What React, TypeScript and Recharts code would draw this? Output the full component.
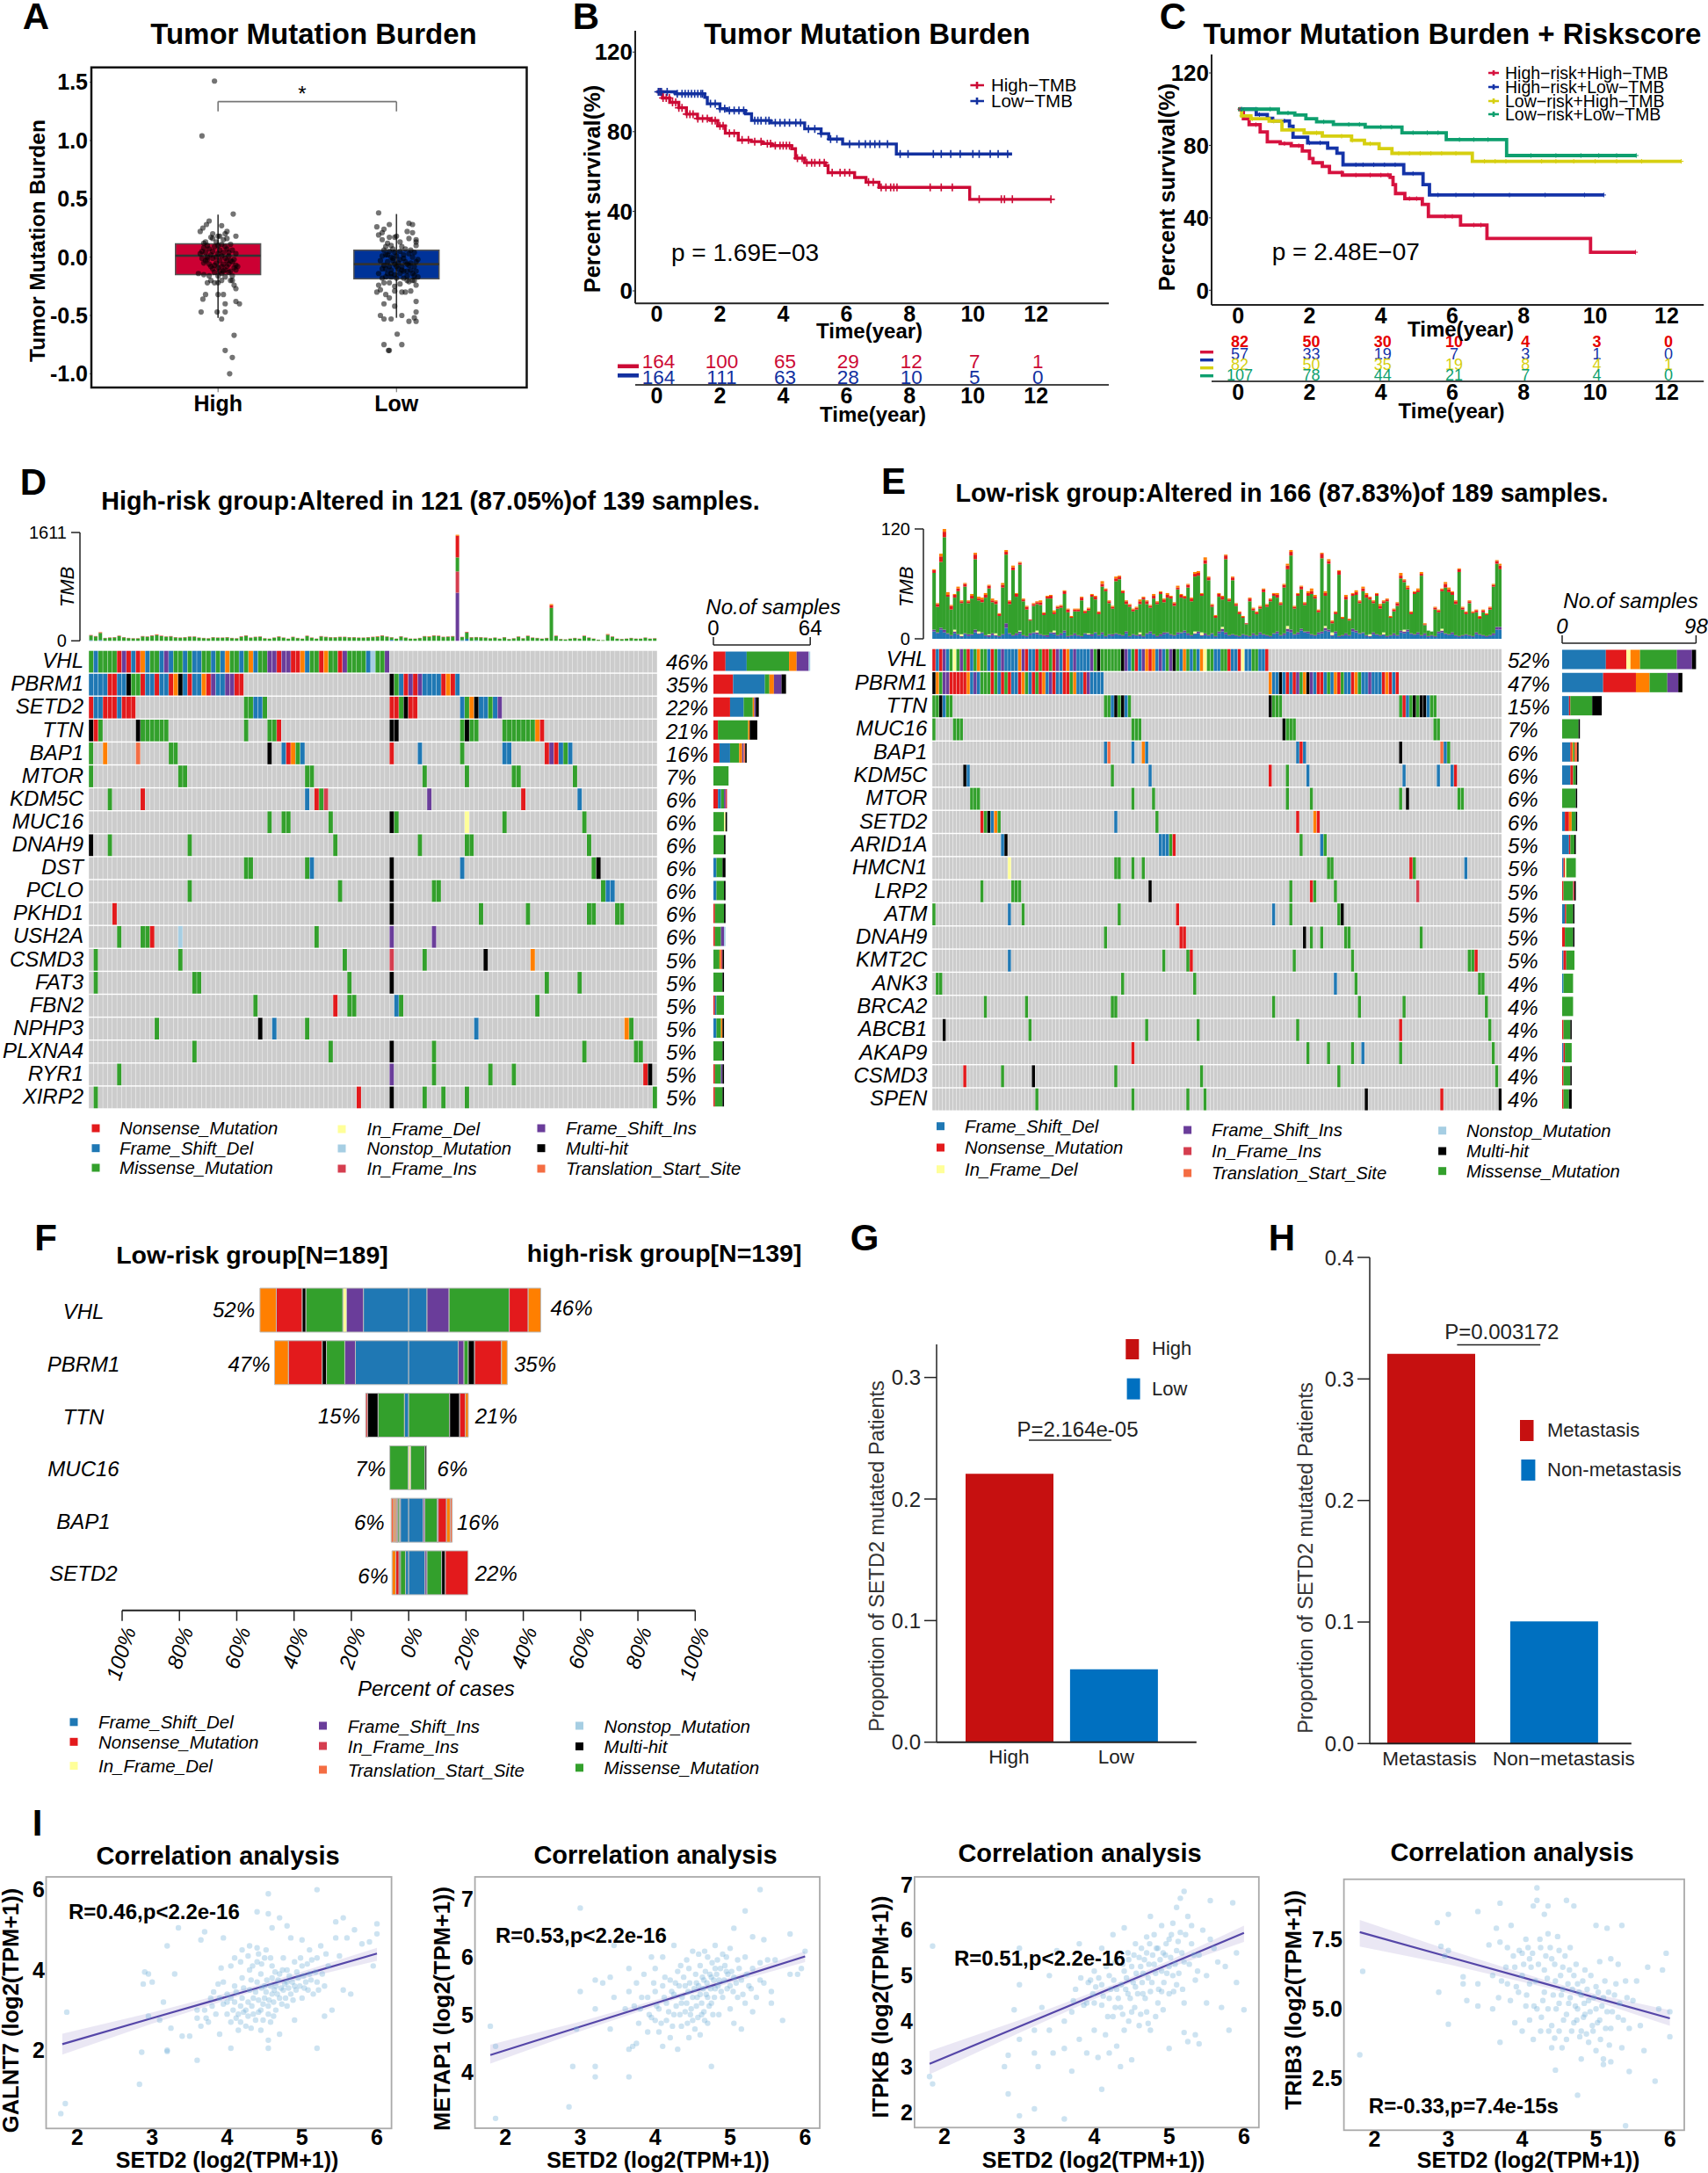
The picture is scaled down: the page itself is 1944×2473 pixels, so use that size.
import React from 'react';
import { Area, Bar, BarChart, Cell, ComposedChart, Line, ReferenceArea, ReferenceLine, Scatter, ScatterChart, XAxis, YAxis } from 'recharts';

const FONT = '"Liberation Sans", Arial, sans-serif';

const MUT: Record<string, string> = {
  G: '#cccccc', F: '#1f78b4', N: '#e31a1c', M: '#33a02c', I: '#6a3d9a', H: '#000000',
  S: '#ff7f00', Y: '#ffff99', L: '#a6cee3', R: '#d53e4f', T: '#f46d43',
};

// ---- panel A
const highBox = { q1: -0.15, med: 0.012, q3: 0.115, lo: -0.52, hi: 0.365 };
const lowBox = { q1: -0.185, med: -0.06, q3: 0.06, lo: -0.52, hi: 0.37 };
const highDots = [[0.98,1.51],[0.91,1.04],[1.085,0.37],[0.95,0.31],[0.935,0.28],[1.02,0.27],[0.915,0.25],[0.9,0.22],[1.05,0.22],[1.04,0.2],[0.97,0.2],[1.0,0.18],[1.1,0.18],[0.96,0.17],[1.03,0.15],[0.92,0.12],[0.93,0.13],[0.99,0.13],[1.02,0.11],[1.07,0.11],[0.92,0.08],[0.95,0.07],[0.98,0.09],[1.01,0.06],[1.05,0.07],[1.08,0.06],[0.9,0.03],[0.93,0.04],[0.96,0.02],[1.0,0.03],[1.03,0.04],[1.06,0.01],[1.1,0.03],[0.91,-0.01],[0.94,-0.02],[0.97,-0.01],[1.01,-0.03],[1.04,-0.01],[1.07,-0.03],[1.09,-0.02],[0.92,-0.05],[0.95,-0.06],[0.99,-0.05],[1.03,-0.06],[1.06,-0.06],[1.1,-0.07],[0.96,-0.08],[1.0,-0.09],[1.05,-0.08],[1.09,-0.09],[1.11,-0.08],[0.97,-0.1],[1.01,-0.12],[1.04,-0.11],[1.07,-0.12],[1.1,-0.11],[0.98,-0.13],[1.02,-0.14],[1.06,-0.13],[0.89,-0.14],[0.92,-0.15],[0.95,-0.16],[1.0,-0.16],[1.04,-0.17],[1.08,-0.16],[0.96,-0.2],[0.98,-0.22],[1.0,-0.22],[1.02,-0.2],[1.07,-0.2],[1.09,-0.24],[0.94,-0.22],[1.1,-0.27],[1.08,-0.2],[0.915,-0.36],[0.93,-0.32],[1.0,-0.32],[1.03,-0.32],[1.04,-0.4],[1.1,-0.38],[1.12,-0.4],[0.905,-0.47],[0.995,-0.47],[1.04,-0.47],[1.02,-0.53],[1.09,-0.67],[1.04,-0.8],[1.08,-0.86],[1.065,-1.0],[0.94,0.1],[0.97,0.05],[1.0,0.1],[1.04,0.09],[0.91,0.05],[0.99,0.0],[1.02,0.01],[1.08,-0.04],[0.93,-0.03],[1.05,-0.03],[1.06,0.04],[0.98,-0.07],[1.02,-0.08],[0.94,0.0],[1.03,-0.12],[0.97,0.16],[1.01,0.18],[1.05,0.16]];
const lowDots = [[1.9,0.38],[1.96,0.28],[2.07,0.29],[2.09,0.28],[1.89,0.26],[1.93,0.24],[1.92,0.21],[2.06,0.22],[2.09,0.21],[2.11,0.15],[2.11,0.13],[2.11,0.1],[2.0,0.18],[1.99,0.17],[1.9,0.19],[1.92,0.15],[1.95,0.12],[1.97,0.1],[2.03,0.09],[2.05,0.07],[2.08,0.06],[1.93,0.06],[1.96,0.05],[1.99,0.04],[2.02,0.05],[2.07,0.03],[2.1,0.04],[1.92,0.01],[1.94,0.02],[1.97,0.0],[2.0,0.01],[2.04,-0.01],[2.09,0.0],[2.12,-0.02],[1.91,-0.03],[1.95,-0.04],[1.98,-0.03],[2.01,-0.05],[2.05,-0.04],[2.08,-0.05],[2.11,-0.04],[1.93,-0.07],[1.96,-0.08],[1.99,-0.06],[2.03,-0.08],[2.07,-0.07],[2.1,-0.08],[1.94,-0.1],[1.97,-0.11],[2.01,-0.1],[2.04,-0.12],[2.08,-0.11],[2.11,-0.12],[1.9,-0.14],[1.95,-0.14],[1.99,-0.15],[2.02,-0.14],[2.06,-0.16],[2.1,-0.16],[2.12,-0.17],[1.92,-0.18],[1.97,-0.17],[2.04,-0.18],[1.9,-0.24],[1.93,-0.22],[1.96,-0.22],[1.99,-0.25],[2.02,-0.23],[2.07,-0.21],[2.09,-0.2],[2.11,-0.24],[1.89,-0.3],[1.91,-0.28],[1.94,-0.32],[1.96,-0.35],[2.03,-0.3],[2.05,-0.3],[2.08,-0.29],[1.99,-0.29],[2.11,-0.38],[1.93,-0.4],[1.99,-0.42],[1.91,-0.5],[1.93,-0.53],[1.97,-0.53],[2.03,-0.5],[2.07,-0.55],[2.1,-0.52],[2.11,-0.55],[2.11,-0.47],[2.004,-0.66],[1.93,-0.75],[2.03,-0.75],[1.955,-0.8],[1.96,-0.8],[1.95,0.02],[1.98,-0.01],[2.02,-0.02],[2.06,-0.06],[1.92,-0.1],[2.0,-0.08],[2.03,-0.11],[1.97,-0.14],[2.09,-0.14],[1.94,-0.17],[2.0,-0.18],[2.06,-0.12],[1.98,0.07],[2.04,0.02],[1.94,0.09],[2.02,0.13],[2.07,0.16],[1.96,0.17],[2.1,-0.2],[2.06,-0.2]];

// ---- panel B
const bHigh = [[0,100],[0.18,96.9],[0.41,94.7],[0.7,92],[0.94,88.8],[1.29,86.6],[1.7,85.6],[1.93,82.9],[2.17,79.2],[2.58,75.8],[2.99,75],[3.34,74],[3.63,73],[4.27,71.4],[4.39,66.7],[4.68,64.4],[5.33,63],[5.42,59.4],[6.26,57],[6.62,54.6],[7.03,52],[9.9,46],[12.47,46]];
const bLow = [[0,100],[0.59,99],[1.52,97.2],[1.6,94],[2,91.5],[2.22,90.6],[2.81,89],[3,85.6],[3.6,84.4],[4.68,81.4],[5.2,79],[5.44,76.3],[5.88,73.8],[7.58,68.8],[11.24,68.8]];
const bHighCens = [0.1,0.2,0.3,0.4,0.5,0.6,0.7,0.8,0.95,1.05,1.15,1.3,1.45,1.6,1.75,1.85,2,2.1,2.3,2.45,2.7,2.9,3.1,3.3,3.5,3.6,3.75,3.9,4,4.1,4.2,4.45,4.6,4.75,4.9,5,5.15,5.3,5.55,5.8,5.95,6.1,6.7,6.85,7.1,7.25,7.4,7.5,7.6,8.65,9,9.35,10.2,10.9,11,11.25,12.47];
const bLowCens = [0.05,0.1,0.15,0.33,0.65,0.8,0.9,1,1.1,1.2,1.3,1.4,1.45,1.7,1.85,2,2.15,2.3,2.45,2.6,2.75,3.1,3.2,3.3,3.45,3.55,3.75,3.9,4.05,4.2,4.4,4.55,4.8,5,5.2,5.5,5.7,6.1,6.4,6.6,6.75,6.9,7.05,7.3,7.7,7.95,8.75,9,9.3,9.6,10,10.2,10.55,10.8,11.1];
const bRiskHigh = [164,100,65,29,12,7,1];
const bRiskLow = [164,111,63,28,10,5,0];
const yearTicks = [0,2,4,6,8,10,12];

// ---- panel C
const cHH = [[0,100],[0.15,94.7],[0.31,91.4],[0.62,87.4],[0.82,82],[1.18,81],[1.49,79.8],[1.8,76.9],[2,72.8],[2.1,70.4],[2.36,68.4],[2.56,65],[2.92,63.6],[4.26,62.3],[4.34,58.3],[4.41,53.4],[4.67,50.6],[5.16,47.4],[5.33,40.8],[6.23,36],[6.97,28.6],[9.87,21],[11.13,21]];
const cHL = [[0,100],[0.51,97],[0.82,95],[0.97,93.5],[1.44,90.6],[1.54,84.5],[1.95,81.4],[2.51,78.5],[2.77,75.7],[2.94,69.3],[4.64,64.4],[5.18,58.3],[5.36,52.6],[10.24,52.6]];
const cLH = [[0,100],[0.1,96.3],[0.36,94.7],[0.87,93.4],[1.23,88.5],[1.85,86.9],[2.36,85.1],[3.18,82.8],[3.54,80.9],[3.95,78.2],[4.31,75.6],[6.56,71.2],[12.41,71.2]];
const cLL = [[0,100],[1.13,97.9],[1.59,96.8],[1.9,94.7],[2.2,93],[2.67,91.6],[3.56,90.1],[4.59,87],[5.83,83.2],[7.52,74.4],[11.15,74.4]];
const cHHCens = [0.05,0.5,1.3,1.7,2.9,3.3,3.7,4,4.2,4.8,5,5.8,6,6.6,6.8,11.13];
const cHLCens = [0.1,0.6,1.3,2,2.3,3.3,3.5,3.8,4.1,4.4,4.9,5.6,6.1,6.6,7.6,8.6,9.7,10.24];
const cLHCens = [0.1,0.4,1,1.5,2.2,2.9,3.2,3.7,4.5,4.8,5.1,5.4,5.7,6.1,6.9,7.2,7.5,8.5,8.9,9.4,10,10.6,11.3,12.41];
const cLLCens = [0.1,0.5,0.9,1.4,2.4,3.1,3.4,4,4.3,4.9,5.3,5.6,6.2,6.6,7,8.2,8.9,9.6,10.1,10.6,11.15];
const cRiskHH = [82,50,30,10,4,3,0];
const cRiskHL = [57,33,19,7,3,1,0];
const cRiskLH = [82,50,35,19,8,4,1];
const cRiskLL = [107,78,44,21,7,4,0];

// ---- panel D oncoplot: "start:types" tokens per gene
const dGenes = ['VHL','PBRM1','SETD2','TTN','BAP1','MTOR','KDM5C','MUC16','DNAH9','DST','PCLO','PKHD1','USH2A','CSMD3','FAT3','FBN2','NPHP3','PLXNA4','RYR1','XIRP2'];
const dPct = [46,35,22,21,16,7,6,6,6,6,6,6,6,5,5,5,5,5,5,5];
const dMuts = [
  '0:MFMMMMNINF 10:NSFMMFIFMM 20:FMFFMMFMFS 30:MMFMSFMMII 40:NIINNSFMMN 50:SMMNIMMMMF 60:LMMI',
  '0:FFFFNNFFHM 10:MNFFNFFNSH 20:FNFFSNIFFI 30:INN 64:HMFNINIFFFFNSNF',
  '0:NFFNNNFNNN 33:MMFFM 64:NNMHNN 79:FMSHFFMFI',
  '0:HNM 10:H 11:MMMMMM 33:M 38:MMN 64:HH 79:MHMM 88:MMMMMMM 95:SN',
  '0:M 3:S 10:T 17:MM 38:H 41:FNSMF 64:N 70:F 79:M 88:FF 97:NINFMF',
  '0:M 19:MM 46:MM 71:M 80:M 90:MM 103:M',
  '4:M 11:N 46:F 48:NMR 72:I 92:N 104:F',
  '38:M 41:MM 51:M 64:HM 80:Y 88:M 105:M',
  '0:H 4:M 21:M 52:M 70:M 80:MM 106:M',
  '33:MM 46:MF 64:H 79:F 107:MH',
  '21:M 53:M 64:H 73:MM 109:MFF',
  '5:N 64:H 83:M 93:M 106:MM 112:MM',
  '6:M 11:MMN 19:L 48:M 64:I 73:I',
  '1:M 19:M 54:M 64:R 71:M 84:H 94:S',
  '1:M 22:MM 55:M 64:H 97:M 104:M',
  '35:M 52:N 55:MM 65:FM 95:M',
  '14:M 36:H 39:F 46:M 82:F 114:SM',
  '22:M 51:M 64:H 73:M 105:M 116:MM',
  '6:M 64:I 73:M 85:M 90:M 118:NH',
  '1:M 57:N 64:H 71:M 75:M 80:M 120:M',
];
const dTmbMiss = [70,65,105,40,45,50,70,50,40,35,35,65,60,75,85,70,60,65,50,45,50,60,60,45,40,35,50,45,45,50,40,35,60,75,45,55,60,35,30,45,60,45,30,55,40,30,70,45,30,65,55,50,50,55,55,50,50,45,45,50,55,60,75,60,35,30,55,45,30,30,40,65,60,75,70,55,60,65,25,45,95,50,45,50,45,35,45,30,50,25,35,60,35,70,45,40,30,40,60,70,25,20,30,40,30,70,45,30,15,10,90,60,30,25,30,40,30,30,45,30,35];
const dTmbNon = [6,6,8,4,5,5,6,5,4,4,4,6,5,6,8,6,5,6,5,4,5,5,5,4,4,4,5,4,4,5,4,4,5,6,4,5,5,4,3,4,6,4,3,5,4,3,6,4,3,6,5,5,5,5,5,5,5,4,4,5,5,6,6,5,4,3,5,4,3,3,4,6,5,6,6,5,5,6,321,4,8,5,4,5,4,4,4,3,5,3,4,5,4,6,4,4,3,4,40,6,3,2,3,4,3,6,4,3,2,1,7,5,3,3,3,4,3,3,4,3,4];
const dTmbOrange: Record<number, number> = { 78: 16, 98: 16, 2: 4, 14: 4, 61: 4, 72: 4, 110: 4 };
const dTmbIns: Record<number, number> = { 78: 716 };
const dTmbInFrame: Record<number, number> = { 78: 316 };
const dTmbMissSpike: Record<number, number> = { 78: 208, 98: 490 };
const dTmbBlue: Record<number, number> = { 0: 10, 2: 12, 64: 15, 80: 30, 79: 10, 66: 8, 82: 8 };

// ---- panel E oncoplot
const eGenes = ['VHL','PBRM1','TTN','MUC16','BAP1','KDM5C','MTOR','SETD2','ARID1A','HMCN1','LRP2','ATM','DNAH9','KMT2C','ANK3','BRCA2','ABCB1','AKAP9','CSMD3','SPEN'];
const ePct = [52,47,15,7,6,6,6,6,5,5,5,5,5,5,4,4,4,4,4,4];
const eMuts = [
  '0:NFNIFMYMIM 10:NFMSMMFNMF 20:IFFFFSINFF 30:NMNNMNIFNS 40:FIFFFFIMHM 50:MMMMMHIFMN 60:FISNSFIFMI 70:HMFSMFMFSY 80:MMFFMMNFFN 90:YFFMMFFN',
  '0:HSMIINNNNN 10:SFIFMMMNMF 20:NMNFFNSMFN 30:MNSFINFFNN 40:MSFFNIFFFF 98:SFFHFNFNIM 108:SHIFNNFMFS 118:NMFFNSMFFI 128:FFFNSNFN',
  '0:MMHFMM 50:MMFHMHFM 98:HMMM 136:MNFMHMHHFMM',
  '0:M 6:MMM 58:MMM 102:HMMM 146:MM',
  '50:FT 58:F 61:SF 106:FNF 136:H 148:TFM',
  '9:HF 52:M 63:F 98:N 103:M 109:F 137:F 147:F 151:FN',
  '11:MMM 58:M 64:M 103:M 110:M 136:M 138:H 153:MM',
  '14:NMHFSM 53:F 65:M 106:N 111:SN',
  '20:FH 66:FFFMN 107:M 113:FM',
  '22:Y 53:MM 58:M 61:M 115:MM 139:NM 155:F',
  '14:M 23:MMM 63:H 104:M 110:NM 117:M 141:R',
  '0:M 22:F 26:M 54:M 71:N 99:F 104:M 118:MH',
  '50:M 72:NN 108:H 110:M 113:M 120:MM 142:M',
  '22:F 67:M 74:MN 105:M 122:M 156:MMN',
  '1:MM 55:M 76:M 117:F 123:M 159:MM',
  '15:M 27:M 52:MM 99:M 124:M 137:M 161:M',
  '3:H 28:M 62:M 77:M 106:M 136:N 162:M',
  '58:N 109:M 115:M 122:M 125:F 136:M 163:M',
  '9:N 20:M 29:H 53:M 78:M 118:M 164:M',
  '30:M 58:M 74:M 79:M 126:H 148:N 165:H',
];
const eTmbTotal = [76,39,93,120,51,37,49,57,42,61,42,49,94,46,45,50,59,44,42,28,61,97,42,80,50,84,44,36,21,39,41,42,29,47,48,31,36,37,53,33,25,33,33,46,31,34,49,47,30,63,55,42,36,68,69,53,42,38,33,35,43,46,42,37,49,41,52,44,50,47,40,58,49,47,60,45,73,74,50,89,68,38,26,50,47,92,44,68,39,30,25,17,45,34,30,36,55,38,44,50,50,40,60,82,97,36,50,58,40,52,55,48,32,94,52,87,20,30,75,24,48,22,50,53,42,57,50,46,42,50,38,42,44,25,33,40,72,65,58,30,52,55,73,17,9,8,35,32,55,62,56,52,42,77,35,30,42,30,32,25,32,28,35,60,86,82];
const eTmbBlue = [8,6,10,7,5,3,6,4,2,5,3,4,7,5,6,3,2,4,3,2,4,12,5,3,4,6,3,2,4,6,5,4,3,2,6,5,3,4,7,2,3,4,3,2,5,4,3,6,3,5,2,4,3,5,4,3,6,2,4,3,3,2,5,6,4,2,3,5,6,4,3,5,6,7,4,3,5,6,3,4,3,5,2,6,8,5,3,4,3,2,4,3,2,4,3,5,4,3,2,5,6,3,4,8,7,4,5,9,7,6,4,3,5,6,9,8,3,6,2,3,4,3,8,7,5,6,3,2,5,4,3,4,2,3,4,3,7,6,8,5,4,5,3,4,2,3,2,6,7,5,4,5,3,2,3,4,3,2,5,4,3,2,3,4,10,10];
const eTmbIns = [2,1,2,3,1,1,2,1,1,1,2,1,3,1,1,1,2,2,1,1,1,5,1,1,2,2,1,1,2,1,2,1,1,2,1,2,1,2,2,1,1,2,1,1,1,1,2,1,1,2,1,1,2,1,1,1,2,1,1,1,2,1,1,2,1,1,2,2,1,1,1,2,1,2,2,1,1,2,1,2,1,1,1,2,3,2,1,1,1,1,1,1,1,2,1,2,1,1,1,1,2,1,2,3,3,1,2,2,1,2,1,1,2,2,3,2,1,2,1,1,2,1,3,2,1,1,1,1,2,1,1,1,1,1,2,1,2,2,2,1,1,2,1,2,1,1,1,2,2,1,1,2,1,1,1,1,1,1,2,1,1,1,1,2,3,3];
const eTmbYellow: Record<number, number> = { 6: 2, 8: 2, 13: 2, 16: 1, 18: 2, 25: 1, 30: 2, 35: 2, 45: 1, 60: 2, 76: 2, 78: 3, 84: 2, 103: 3, 114: 2, 116: 3, 127: 2, 131: 2, 137: 2, 148: 2 };
const eTmbRed = [3,3,6,6,2,4,3,3,2,3,2,3,5,2,3,3,3,2,3,2,3,3,3,3,3,2,2,3,1,2,2,3,2,2,3,2,2,2,3,3,1,2,2,3,2,2,2,3,2,3,2,2,2,3,3,2,3,2,2,2,3,2,3,2,3,2,2,3,3,2,3,2,3,2,3,3,3,3,2,4,3,2,2,3,3,4,2,3,2,2,1,1,3,2,2,2,3,2,2,2,3,2,3,4,4,2,2,3,2,3,3,2,2,5,3,3,2,2,4,1,3,1,2,3,2,3,3,2,2,2,3,2,2,1,2,3,3,2,2,2,2,2,2,1,0,0,2,2,2,4,3,3,3,3,2,2,2,1,2,2,2,1,2,2,3,4];
const eTmbOrange = [1,1,3,3,3,1,1,2,1,1,1,2,2,2,2,2,1,2,1,1,2,2,1,2,1,1,1,1,0,1,1,2,1,1,1,2,1,1,1,1,1,1,1,1,1,1,1,1,1,3,1,1,1,2,1,1,1,1,1,1,2,1,1,1,2,1,1,1,2,1,1,2,1,1,1,1,2,2,1,3,1,1,1,1,1,1,1,1,1,1,1,0,1,1,1,1,1,1,1,1,2,1,1,2,2,1,1,1,1,2,3,2,1,1,2,2,1,1,1,1,2,1,1,2,1,2,2,1,1,1,2,1,1,1,1,1,3,1,2,1,1,2,2,1,0,0,1,1,1,2,2,1,1,1,1,1,1,1,1,1,1,1,1,1,1,2];

// ---- panel F
const fGenes = ['VHL','PBRM1','TTN','MUC16','BAP1','SETD2'];
const fTypes = ['F','I','Y','M','H','N','S','T'];
const fLowPct: Record<string, number[]> = {
  F: [15.8,18.6,1.5,0,2.9,1.1], I: [5.9,3.7,0,0,0.3,0], Y: [1.3,0,0,0.2,0,0], M: [12.9,6.4,9.2,6.4,0.6,1.8],
  H: [1.3,1.5,3.7,0,0.3,0.5], N: [9,11.8,0.6,0,0.5,1.1], S: [5.7,4.8,0,0,0.6,1.3], T: [0,0,0,0,0.9,0],
};
const fHighPct: Record<string, number[]> = {
  F: [6.4,17.3,0,0,5.1,5.7], I: [7.7,2,0,0,0.5,0.7], Y: [0,0,0,0.7,0,0], M: [21,1.5,14.3,5,4.4,5.1],
  H: [0,2.2,3.5,0.5,0.3,1.3], N: [6.6,9.4,2,0,2.9,7.9], S: [4.4,2,1,0,1.3,0], T: [0,0,0,0,0.7,0],
};
const fTicks = [-100,-80,-60,-40,-20,0,20,40,60,80,100];

// ---- panels G, H
const gCats = ['High','Low'];
const gVals = [0.2207,0.06];
const hCats = ['Metastasis','Non\u2212metastasis'];
const hVals = [0.3207,0.1006];
const barCols = ['#c61010','#0070c0'];

// ---- panel I
const fit1 = [{ x: 1.8, fit: 2.15, ci: [1.89,2.41] },{ x: 3, fit: 2.8, ci: [2.66,2.94] },{ x: 4.4, fit: 3.55, ci: [3.49,3.62] },{ x: 5, fit: 3.87, ci: [3.78,3.96] },{ x: 6, fit: 4.41, ci: [4.23,4.55] }];
const fit2 = [{ x: 1.8, fit: 4.3, ci: [4.15,4.48] },{ x: 3, fit: 4.79, ci: [4.71,4.88] },{ x: 4.4, fit: 5.36, ci: [5.32,5.4] },{ x: 5, fit: 5.6, ci: [5.55,5.65] },{ x: 6, fit: 6.01, ci: [5.91,6.1] }];
const fit3 = [{ x: 1.8, fit: 3.06, ci: [2.83,3.34] },{ x: 3, fit: 3.88, ci: [3.74,4.02] },{ x: 4.4, fit: 4.84, ci: [4.78,4.9] },{ x: 5, fit: 5.25, ci: [5.17,5.33] },{ x: 6, fit: 5.94, ci: [5.74,6.1] }];
const fit4 = [{ x: 1.8, fit: 7.76, ci: [7.24,8.2] },{ x: 3, fit: 6.87, ci: [6.6,7.12] },{ x: 4.4, fit: 5.84, ci: [5.72,5.96] },{ x: 5, fit: 5.4, ci: [5.27,5.53] },{ x: 6, fit: 4.66, ci: [4.39,4.95] }];
const corr1 = [[1.78,0.42],[1.84,0.67],[1.86,2.95],[2.83,1.15],[2.86,1.95],[3.2,1.97],[3.2,2.0],[3.6,1.75],[5.2,6.0],[4.55,5.9],[4.4,5.45],[4.55,5.4],[3.35,5.05],[6,5.15],[5.55,5.3],[5.45,5.2],[4.7,5.3],[4.8,5.1],[4.6,5.05],[3.2,4.6],[3.65,4.75],[3.7,4.95],[3.95,4.8],[2.9,3.95],[2.95,3.9],[2.88,3.65],[3,3.7],[3.3,3.9],[3.6,3.0],[3.6,2.8],[3.15,3.2],[3.1,2.75],[3.25,2.55],[3.4,2.35],[3.5,2.35],[2.95,2.85],[3.65,2.6],[3.7,3.0],[3.75,2.7],[3.8,3.1],[3.85,2.9],[3.9,3.3],[3.9,2.4],[3.95,3.7],[4.0,2.9],[4.0,3.4],[4.05,2.7],[4.05,4.1],[4.1,3.2],[4.1,3.6],[4.1,4.3],[4.15,2.9],[4.15,2.5],[4.2,3.3],[4.2,3.8],[4.2,4.5],[4.25,3.0],[4.25,2.6],[4.3,3.5],[4.3,4.0],[4.3,4.6],[4.35,2.9],[4.35,3.3],[4.4,3.7],[4.4,4.2],[4.4,4.55],[4.45,3.0],[4.45,2.5],[4.45,3.9],[4.5,3.3],[4.5,3.6],[4.5,4.3],[4.55,2.9],[4.55,2.25],[4.55,3.1],[4.6,3.4],[4.6,3.8],[4.6,4.1],[4.65,3.0],[4.65,3.6],[4.7,3.3],[4.7,3.9],[4.7,2.4],[4.75,4.3],[4.75,3.5],[4.8,3.1],[4.8,3.7],[4.8,4.0],[4.85,3.4],[4.85,4.8],[4.9,3.6],[4.9,4.2],[4.9,2.75],[4.95,3.8],[5,3.3],[5,4.1],[5,4.75],[5.05,3.7],[5.1,4.5],[5.1,3.9],[5.15,3.4],[5.2,4.3],[5.2,3.7],[5.2,2.05],[5.25,4.6],[5.3,3.6],[5.3,2.85],[5.35,4.1],[5.4,3.0],[5.45,4.8],[5.5,4.35],[5.55,3.5],[5.6,4.8],[5.65,3.4],[5.8,4.65],[5.9,4.7],[5.95,4.1],[6,4.9],[5.7,5.0],[4.55,2.05],[4.05,2.05],
  [3.95,3.15],[4.0,3.2],[4.05,3.3],[4.08,3.0],[4.12,3.45],[4.18,3.1],[4.22,3.55],[4.28,3.2],[4.32,3.75],[4.33,3.1],[4.38,3.45],[4.42,3.25],[4.46,3.55],[4.48,3.15],[4.52,3.45],[4.53,3.75],[4.56,3.25],[4.58,3.6],[4.62,3.2],[4.63,3.5],[4.64,3.95],[4.67,3.4],[4.68,3.75],[4.72,3.55],[4.73,3.15],[4.74,4.0],[4.77,3.65],[4.78,3.3],[4.82,3.55],[4.83,3.85],[4.87,3.7],[4.88,3.25],[4.92,3.5],[4.93,3.95],[4.97,3.6],[4.98,4.3],[5.02,3.85],[5.03,3.55],[5.07,4.15],[5.08,3.5],[5.12,3.75],[5.13,4.25],[5.18,3.95],[5.22,3.5],[5.27,3.9],[5.32,4.4],[4.38,2.75],[4.42,2.95],[4.28,2.85],[4.18,2.7],[4.12,2.8],[4.22,2.95],[4.32,2.55],[4.48,2.75],[4.58,2.7],[4.62,2.85],[4.18,4.2],[4.28,4.35],[4.34,4.1],[4.42,4.4],[4.46,4.15],[4.52,4.5],[4.58,4.3],[3.88,3.65],[3.92,4.05],[3.82,3.45],[3.78,3.3],[3.72,2.8]];
const corr2 = [[1.87,3.2],[2.85,3.4],[3.2,3.92],[3.65,3.92],[2.9,4.1],[3.2,4.1],[1.8,4.8],[1.87,4.45],[3.0,6.85],[3.0,5.4],[5.4,7.17],[5.2,6.8],[3.45,6.2],[5.8,6.4],[5.05,6.5],[5.3,6.35],[5.45,6.3],[4.75,4.1],[2.95,4.75],[3.2,5.1],[3.2,5.6],[3.3,5.55],[3.4,5.65],[3.45,5.3],[3.4,4.75],[3.65,4.4],[3.7,4.45],[3.75,4.5],[3.6,5.1],[3.65,5.4],[3.65,5.8],[3.75,5.55],[3.8,5.1],[3.85,5.7],[3.9,4.7],[3.9,5.3],[3.95,6.0],[4.0,4.9],[4.0,5.4],[4.0,5.8],[4.05,4.7],[4.05,5.1],[4.1,5.5],[4.1,4.45],[4.1,6.0],[4.15,5.2],[4.15,4.9],[4.2,5.6],[4.2,4.6],[4.25,5.0],[4.25,5.35],[4.25,6.2],[4.3,5.75],[4.3,4.4],[4.35,5.2],[4.35,4.8],[4.4,5.5],[4.4,5.05],[4.45,5.8],[4.45,4.6],[4.5,5.3],[4.5,6.1],[4.5,4.9],[4.55,5.55],[4.55,5.15],[4.6,4.65],[4.6,5.35],[4.6,5.85],[4.65,5.05],[4.65,5.6],[4.7,6.0],[4.7,5.3],[4.7,4.85],[4.75,5.65],[4.75,5.2],[4.8,6.2],[4.8,5.45],[4.8,5.8],[4.85,5.0],[4.85,5.6],[4.9,6.05],[4.9,5.3],[4.95,5.75],[5,5.1],[5,5.5],[5,6.15],[5.05,4.85],[5.05,5.65],[5.1,5.95],[5.1,5.3],[5.15,4.75],[5.15,5.6],[5.2,6.0],[5.2,5.2],[5.25,5.5],[5.3,5.8],[5.3,5.05],[5.35,5.3],[5.4,5.9],[5.4,5.6],[5.45,5.55],[5.5,5.95],[5.55,5.2],[5.55,5.4],[5.6,5.95],[5.7,4.9],[5.8,5.7],[5.9,5.7],[5.95,5.8],[6,6.1],
  [4.12,5.3],[4.18,5.05],[4.22,5.4],[4.28,5.15],[4.32,5.5],[4.36,5.3],[4.38,5.65],[4.42,5.2],[4.44,5.4],[4.46,5.55],[4.48,5.1],[4.52,5.45],[4.54,5.7],[4.56,5.3],[4.58,5.5],[4.62,5.2],[4.63,5.65],[4.64,5.45],[4.67,5.75],[4.68,5.35],[4.69,5.55],[4.72,5.15],[4.73,5.7],[4.74,5.45],[4.76,5.9],[4.78,5.6],[4.79,5.3],[4.82,5.7],[4.83,5.95],[4.84,5.5],[4.87,5.8],[4.88,5.4],[4.92,5.6],[4.93,5.85],[4.96,5.45],[4.97,5.7],[5.02,5.75],[5.04,5.4],[5.08,5.55],[5.12,5.8],[5.17,5.35],[5.22,5.7],[5.28,5.45],[3.95,4.95],[4.02,5.15],[4.08,4.85],[4.13,5.65],[4.23,4.8],[4.27,5.55],[4.33,5.0],[4.43,4.85],[4.47,5.0],[4.53,4.75],[4.57,4.95],[4.62,5.0],[4.66,4.9],[4.77,5.0],[4.34,5.85],[4.42,5.95],[4.58,6.05],[4.66,6.1],[4.95,6.0],[3.98,5.55],[3.92,5.0],[3.82,5.3],[3.78,4.85],[3.72,5.15]];
const corr3 = [[1.8,2.78],[1.84,2.62],[1.84,5.65],[2.85,2.4],[3,1.92],[3.2,2.07],[3.6,1.85],[4.1,2.5],[2.8,3.0],[2.85,3.25],[3.7,2.9],[3.2,3.3],[3,3.6],[3,4.8],[2.93,4.25],[3,5.6],[3.3,4.3],[5.2,6.85],[5.15,6.7],[5.55,6.65],[5.85,6.6],[5.1,6.5],[5.25,6.3],[4.75,6.3],[5.9,4.85],[6,4.25],[5.8,3.8],[5.7,4.3],[5.5,4.4],[3.2,3.8],[3.25,3.0],[3.4,3.8],[3.45,3.3],[3.4,5.0],[3.5,5.55],[3.6,4.0],[3.6,3.4],[3.7,4.2],[3.75,4.7],[3.8,3.6],[3.8,5.7],[3.9,4.4],[3.9,3.3],[3.95,4.9],[4,3.8],[4,4.4],[4,5.1],[4.05,3.2],[4.1,4.8],[4.1,5.6],[4.1,4.35],[4.15,3.7],[4.2,5.0],[4.2,4.5],[4.2,3.3],[4.25,5.9],[4.25,4.1],[4.3,4.7],[4.3,3.45],[4.3,5.35],[4.35,4.3],[4.35,3.0],[4.4,5.1],[4.4,6.05],[4.4,3.8],[4.45,4.6],[4.45,5.5],[4.5,3.15],[4.5,4.2],[4.5,5.2],[4.55,4.75],[4.55,5.7],[4.6,3.9],[4.6,5.4],[4.65,4.6],[4.65,5.05],[4.7,4.2],[4.7,5.5],[4.7,5.85],[4.75,3.8],[4.75,4.65],[4.8,5.25],[4.8,5.9],[4.85,4.4],[4.85,5.6],[4.9,4.65],[4.9,5.1],[4.9,6.1],[4.95,5.45],[5,3.4],[5,4.6],[5,5.8],[5,5.2],[5.05,5.0],[5.05,6.15],[5.1,4.8],[5.1,5.55],[5.15,5.95],[5.2,3.75],[5.2,4.4],[5.2,5.3],[5.25,3.55],[5.3,5.7],[5.3,6.1],[5.35,3.7],[5.35,4.9],[5.4,3.5],[5.4,5.45],[5.45,6.0],[5.5,5.0],[5.55,5.8],[5.6,5.6],[5.65,5.3],[5.75,5.2],[5.9,5.5],
  [4.02,4.75],[4.06,4.95],[4.12,4.55],[4.16,5.2],[4.22,4.7],[4.26,4.9],[4.28,5.3],[4.32,4.5],[4.36,4.8],[4.38,5.25],[4.42,4.7],[4.43,4.95],[4.46,5.35],[4.48,4.5],[4.52,4.85],[4.53,5.45],[4.56,5.05],[4.58,4.6],[4.62,5.2],[4.63,5.6],[4.64,4.85],[4.67,5.35],[4.68,4.5],[4.72,4.95],[4.73,5.25],[4.74,5.7],[4.77,4.85],[4.78,5.45],[4.82,5.05],[4.83,5.6],[4.86,4.7],[4.88,5.35],[4.92,5.5],[4.93,4.85],[4.96,5.7],[4.97,5.05],[5.02,5.4],[5.03,5.9],[5.06,4.65],[5.08,5.25],[5.12,5.75],[5.13,5.05],[5.17,5.5],[5.18,4.7],[5.22,5.9],[5.27,5.25],[5.33,5.45],[5.38,5.1],[4.18,4.1],[4.28,4.3],[4.38,4.15],[4.46,4.0],[4.54,4.3],[4.62,4.15],[4.72,3.95],[4.82,4.1],[4.92,4.25],[3.98,4.6],[3.92,4.85],[3.86,4.35],[3.82,4.95],[3.72,4.45]];
const corr4 = [[1.8,3.35],[1.84,6.35],[2.87,5.6],[2.85,8.1],[2.9,7.25],[2.95,6.9],[3,7.1],[3.0,8.4],[3,4.45],[3.2,5.9],[3.2,6.15],[3.25,5.3],[3.4,8.5],[3.4,5.1],[3.4,5.9],[3.55,7.3],[3.6,6.2],[3.6,5.0],[3.7,8.8],[3.65,7.9],[3.7,7.4],[3.7,3.8],[3.8,5.9],[3.8,7.2],[3.85,8.0],[3.9,6.5],[3.9,4.5],[3.95,5.6],[4,7.0],[4,6.2],[4,4.2],[4.05,5.1],[4.05,7.5],[4.1,4.6],[4.1,6.8],[4.1,5.9],[4.15,8.7],[4.15,3.9],[4.2,9.35],[4.2,8.9],[4.2,5.0],[4.25,7.2],[4.25,4.2],[4.3,8.4],[4.3,6.4],[4.3,5.6],[4.35,8.7],[4.35,7.7],[4.35,5.0],[4.4,4.4],[4.4,6.8],[4.4,3.6],[4.45,2.8],[4.45,6.0],[4.5,7.1],[4.5,5.2],[4.5,4.2],[4.55,5.7],[4.55,6.5],[4.6,8.9],[4.6,4.8],[4.6,3.9],[4.65,5.4],[4.65,7.2],[4.7,8.7],[4.7,4.5],[4.7,6.2],[4.75,1.9],[4.75,5.0],[4.75,5.9],[4.8,4.2],[4.8,5.5],[4.8,3.2],[4.85,6.4],[4.85,4.8],[4.9,3.8],[4.9,5.3],[4.95,4.4],[5,8.0],[5,5.8],[5,3.5],[5,5.0],[5.05,4.6],[5.05,6.7],[5.1,3.2],[5.1,5.4],[5.1,3.0],[5.15,7.9],[5.15,4.9],[5.2,6.8],[5.2,3.1],[5.2,4.3],[5.25,5.5],[5.3,6.6],[5.3,4.7],[5.35,8.0],[5.35,3.6],[5.4,0.8],[5.4,6.0],[5.45,2.75],[5.45,4.3],[5.5,5.3],[5.55,6.0],[5.6,4.4],[5.65,3.5],[5.7,6.5],[5.8,2.4],[5.85,5.0],[5.9,6.4],[5.95,7.0],[6,4.9],[6,4.0],
  [4.12,6.5],[4.14,7.0],[4.18,6.0],[4.22,6.6],[4.24,7.5],[4.28,5.3],[4.32,6.9],[4.34,6.1],[4.38,7.2],[4.42,5.5],[4.44,6.6],[4.46,5.0],[4.48,7.6],[4.52,6.2],[4.53,5.5],[4.56,4.6],[4.58,6.9],[4.62,5.9],[4.63,5.2],[4.64,6.4],[4.67,4.2],[4.68,5.7],[4.72,5.1],[4.73,6.6],[4.74,4.6],[4.77,5.6],[4.78,4.0],[4.82,6.0],[4.83,4.7],[4.84,5.2],[4.87,4.1],[4.88,5.7],[4.92,4.9],[4.93,6.2],[4.96,4.2],[4.97,5.4],[5.02,4.5],[5.03,5.6],[5.06,3.9],[5.08,5.1],[5.12,6.0],[5.13,4.3],[5.17,5.6],[5.18,3.7],[5.22,4.9],[5.27,5.9],[5.32,5.2],[5.37,4.6],[5.42,5.4],[4.02,6.6],[4.06,5.5],[3.96,7.1],[3.92,5.8],[3.88,6.9],[3.84,5.3],[3.78,6.5],[3.72,6.0],[3.68,5.4],[4.08,7.2],[4.16,5.1],[4.26,4.7],[4.36,4.2],[4.44,3.95],[4.54,3.6]];

// ---- shared legend rows
type LegendItem = [string, string, number];

function place(l: number, t: number, r: number, b: number, lp = 0, bp = 0, tp = 0, rp = 0) {
  return {
    wrap: { position: 'absolute' as const, left: l - lp, top: t - tp },
    size: { width: r - l + lp + rp, height: b - t + tp + bp, margin: { top: tp, right: rp, left: 0, bottom: 0 } },
  };
}

function stepAt(curve: number[][], t: number) {
  let s = curve[0][1];
  for (const [pt, ps] of curve) if (pt <= t) s = ps;
  return s;
}

function parseMuts(src: string) {
  const found = new Map<number, string>();
  src.split(' ').forEach((tok) => {
    const [st, letters] = tok.split(':');
    letters.split('').forEach((k, i) => found.set(Number(st) + i, k));
  });
  return found;
}

function Txt({ x, y, s = 20, b, i, a = 'middle', r, c = '#000', children }: any) {
  return (
    <text x={x} y={y} fontSize={s} fontWeight={b ? 700 : 400} fontStyle={i ? 'italic' : 'normal'} textAnchor={a} dominantBaseline="central" fill={c} transform={r ? `rotate(${r} ${x} ${y})` : undefined}>
      {children}
    </text>
  );
}

const plusMark = (color: string, arm: number, sw: number) => (p: any) => (
  <path d={`M${p.cx - arm} ${p.cy}H${p.cx + arm}M${p.cx} ${p.cy - arm}V${p.cy + arm}`} stroke={color} strokeWidth={sw} fill="none" />
);

function KMChart({ box, xDomain, yDomain, curves, arm, sw, lw }: any) {
  const pl = place(box[0], box[1], box[2], box[3], 70, 34, 4, 4);
  return (
    <div style={pl.wrap}>
      <ComposedChart {...pl.size}>
        <XAxis type="number" dataKey="t" domain={xDomain} ticks={yearTicks} interval={0} height={34} tickSize={0} tickMargin={3} tickLine={false} axisLine={{ stroke: '#222', strokeWidth: 2 }} tick={{ fontSize: 25, fontWeight: 700, fill: '#000' }} />
        <YAxis type="number" dataKey="s" domain={yDomain} ticks={[0,40,80,120]} interval={0} width={70} tickSize={3} tickMargin={0} axisLine={{ stroke: '#222', strokeWidth: 2 }} tickLine={{ stroke: '#222' }} tick={{ fontSize: 26, fontWeight: 700, fill: '#000' }} />
        {curves.map((c: any, i: number) => (
          <Line key={i} type="stepAfter" data={c.pts.map(([t, s]: number[]) => ({ t, v: s }))} dataKey="v" stroke={c.color} strokeWidth={lw} dot={false} isAnimationActive={false} />
        ))}
        {curves.map((c: any, i: number) => (
          <Scatter key={`c${i}`} data={c.cens.map((t: number) => ({ t, s: stepAt(c.pts, t) }))} shape={plusMark(c.color, arm, sw)} isAnimationActive={false} />
        ))}
      </ComposedChart>
    </div>
  );
}

function RiskTable({ box, xDomain, rows, fontSize }: any) {
  const pl = place(box[0], box[1], box[2], box[3], 0, 34, 0, 4);
  return (
    <div style={pl.wrap}>
      <ScatterChart {...pl.size}>
        <XAxis type="number" dataKey="t" domain={xDomain} ticks={yearTicks} interval={0} height={34} tickSize={0} tickMargin={3} axisLine={{ stroke: '#444', strokeWidth: 2 }} tick={{ fontSize: 25, fontWeight: 700, fill: '#000' }} />
        <YAxis type="number" dataKey="r" domain={[0,1]} hide />
        {rows.map((row: any, i: number) => (
          <Scatter
            key={i}
            data={row.vals.map((n: number, k: number) => ({ t: yearTicks[k], r: row.at, n }))}
            isAnimationActive={false}
            shape={(p: any) => (
              <text x={p.cx + 2} y={p.cy} fontSize={fontSize} fontWeight={row.bold ? 700 : 400} fill={row.color} textAnchor="middle" dominantBaseline="central">{p.payload.n}</text>
            )}
          />
        ))}
      </ScatterChart>
    </div>
  );
}

function OncoGrid({ muts, n, box }: any) {
  const w = (box[2] - box[0]) / n;
  const h = (box[3] - box[1]) / muts.length;
  const cells: any[] = [];
  muts.forEach((src: string, ri: number) => {
    const found = parseMuts(src);
    for (let i = 0; i < n; i++) cells.push({ x: i + 0.5, y: ri + 0.5, k: found.get(i) ?? 'G' });
  });
  const pl = place(box[0], box[1], box[2], box[3]);
  return (
    <div style={pl.wrap}>
      <ScatterChart {...pl.size}>
        <XAxis type="number" dataKey="x" domain={[0,n]} hide />
        <YAxis type="number" dataKey="y" domain={[0,muts.length]} reversed hide />
        <Scatter
          data={cells}
          isAnimationActive={false}
          shape={(p: any) => <rect x={p.cx - w / 2 + 0.2} y={p.cy - h / 2 + 0.7} width={w - 0.4} height={h - 1.4} fill={MUT[p.payload.k]} />}
        />
      </ScatterChart>
    </div>
  );
}

function SideBars({ genes, muts, order, box, max, italic }: any) {
  const rows = genes.map((gene: string, ri: number) => {
    const row: any = { gene };
    parseMuts(muts[ri]).forEach((k) => { row[k] = (row[k] || 0) + 1; });
    return row;
  });
  // box[1] is the axis line; the rows start a few px lower
  const pl = place(box[0], box[1], box[2], box[3], 18, 0, 40, 18);
  return (
    <div style={pl.wrap}>
      <BarChart {...pl.size} margin={{ top: 0, right: 18, left: 18, bottom: 0 }} layout="vertical" data={rows} barCategoryGap={2}>
        <XAxis type="number" orientation="top" domain={[0,max]} ticks={[0,max]} interval={0} height={40} tickSize={9} tickMargin={2} axisLine={{ stroke: '#222', strokeWidth: 1.5 }} tickLine={{ stroke: '#222', strokeWidth: 1.5 }} tick={{ fontSize: 24, fill: '#000', fontStyle: italic ? 'italic' : 'normal' }} />
        <YAxis type="category" dataKey="gene" hide padding={{ top: 5.5, bottom: 0 }} />
        {order.map((k: string) => <Bar key={k} dataKey={k} stackId="a" fill={MUT[k]} isAnimationActive={false} />)}
      </BarChart>
    </div>
  );
}

function TmbBars({ data, keys, box, max, gap }: any) {
  const pl = place(box[0], box[1], box[2], box[3], 84, 12, 12, 0);
  return (
    <div style={pl.wrap}>
      <BarChart {...pl.size} margin={{ top: 12, right: 0, left: 0, bottom: 12 }} data={data} barCategoryGap={gap}>
        <XAxis dataKey="i" hide />
        <YAxis type="number" domain={[0,max]} ticks={[0,max]} interval={0} width={84} tickSize={10} tickMargin={6} axisLine={{ stroke: '#222', strokeWidth: 1.5, transform: 'translate(-10 0)' } as any} tickLine={{ stroke: '#222', strokeWidth: 1.5, transform: 'translate(-10 0)' } as any} tick={{ fontSize: 20, fill: '#000', dx: -9 }} />
        {keys.map((k: string) => <Bar key={k} dataKey={k} stackId="a" fill={MUT[k]} isAnimationActive={false} />)}
      </BarChart>
    </div>
  );
}

function ProportionBars({ cats, vals, box, yMax, ticks, pad, shift }: any) {
  const data = cats.map((name: string, i: number) => ({ name, v: vals[i] }));
  const pl = place(box[0], box[1], box[2], box[3], 70, 40, 12, 30);
  const catTick = ({ x, y, payload, index }: any) => (
    <text x={x + shift[index]} y={y + 9} fontSize={22.5} fill="#222" textAnchor="middle" dominantBaseline="central">{payload.value}</text>
  );
  return (
    <div style={pl.wrap}>
      <BarChart {...pl.size} data={data}>
        <XAxis dataKey="name" interval={0} height={40} padding={pad} tickSize={0} tickMargin={8} axisLine={{ stroke: '#222', strokeWidth: 2 }} tick={catTick} />
        <YAxis type="number" domain={[0,yMax]} ticks={ticks} interval={0} width={70} tickSize={14} tickMargin={4} tickFormatter={(v: number) => v.toFixed(1)} axisLine={{ stroke: '#222', strokeWidth: 1.5 }} tickLine={{ stroke: '#222', strokeWidth: 1.5 }} tick={{ fontSize: 24, fill: '#222' }} />
        <Bar dataKey="v" barSize={100} isAnimationActive={false}>
          {data.map((_: any, i: number) => <Cell key={i} fill={barCols[i]} />)}
        </Bar>
      </BarChart>
    </div>
  );
}

function CorrPanel({ box, xDomain, yDomain, yTicks, fit, pts, dec }: any) {
  const pl = place(box[0], box[1], box[2], box[3], 50, 30, 0, 8);
  return (
    <div style={pl.wrap}>
      <ComposedChart {...pl.size} data={fit}>
        <XAxis type="number" dataKey="x" domain={xDomain} ticks={[2,3,4,5,6]} interval={0} height={30} tickSize={0} tickMargin={1} axisLine={false} tick={{ fontSize: 25, fontWeight: 700, fill: '#000' }} />
        <YAxis type="number" dataKey="y" domain={yDomain} ticks={yTicks} interval={0} width={50} tickSize={0} tickMargin={2} axisLine={false} tickFormatter={(v: number) => (dec ? v.toFixed(1) : String(v))} tick={{ fontSize: 25, fontWeight: 700, fill: '#000' }} />
        <Scatter data={pts.map(([x, y]: number[]) => ({ x, y }))} shape={(p: any) => <circle cx={p.cx} cy={p.cy} r={3.2} fill="#6baed6" fillOpacity={0.34} />} isAnimationActive={false} />
        <Area type="linear" dataKey="ci" fill="#8a7cc4" fillOpacity={0.18} stroke="none" dot={false} activeDot={false} isAnimationActive={false} />
        <Line type="linear" dataKey="fit" stroke="#5546a8" strokeWidth={2.2} dot={false} isAnimationActive={false} />
      </ComposedChart>
    </div>
  );
}

function BoxPanel() {
  const pl = place(104, 76.7, 599.5, 441, 70, 34, 0, 2);
  const g = (c: number, b: typeof highBox, fill: string) => [
    <ReferenceLine key={`w${c}`} segment={[{ x: c, y: b.lo }, { x: c, y: b.hi }]} stroke="#333" strokeWidth={1.6} />,
    <ReferenceArea key={`b${c}`} x1={c - 0.2385} x2={c + 0.2385} y1={b.q1} y2={b.q3} fill={fill} fillOpacity={1} stroke="#555" strokeWidth={1.5} />,
    <ReferenceLine key={`m${c}`} segment={[{ x: c - 0.2385, y: b.med }, { x: c + 0.2385, y: b.med }]} stroke="#333" strokeWidth={2.6} />,
  ];
  const dot = (p: any) => <circle cx={p.cx} cy={p.cy} r={3.1} fill="#000" fillOpacity={0.55} />;
  return (
    <div style={pl.wrap}>
      <ScatterChart {...pl.size}>
        <XAxis type="number" dataKey="x" domain={[0.29,2.73]} ticks={[1,2]} interval={0} height={34} tickSize={5} tickMargin={4} axisLine={false} tickFormatter={(v: number) => (v === 1 ? 'High' : 'Low')} tick={{ fontSize: 25, fontWeight: 700, fill: '#000' }} />
        <YAxis type="number" dataKey="y" domain={[-1.12,1.625]} ticks={[-1,-0.5,0,0.5,1,1.5]} interval={0} width={70} tickSize={2} tickMargin={2} axisLine={false} tickFormatter={(v: number) => v.toFixed(1)} tick={{ fontSize: 25, fontWeight: 700, fill: '#000' }} />
        {g(1, highBox, '#cc0033')}
        {g(2, lowBox, '#003399')}
        <ReferenceLine segment={[{ x: 1, y: 1.25 }, { x: 1, y: 1.334 }]} stroke="#777" strokeWidth={1.6} />
        <ReferenceLine segment={[{ x: 1, y: 1.334 }, { x: 2, y: 1.334 }]} stroke="#777" strokeWidth={1.6} />
        <ReferenceLine segment={[{ x: 2, y: 1.25 }, { x: 2, y: 1.334 }]} stroke="#777" strokeWidth={1.6} />
        <Scatter data={highDots.map(([x, y]) => ({ x, y }))} shape={dot} isAnimationActive={false} />
        <Scatter data={lowDots.map(([x, y]) => ({ x, y }))} shape={dot} isAnimationActive={false} />
      </ScatterChart>
    </div>
  );
}

function ButterflyPanel() {
  const data = fGenes.map((gene, i) => {
    const row: any = { gene };
    fTypes.forEach((k) => { row[`l${k}`] = -fLowPct[k][i]; row[`r${k}`] = fHighPct[k][i]; });
    return row;
  });
  const pl = place(139, 1461.3, 791.3, 1833, 34, 90, 0, 34);
  const tick = ({ x, y, payload }: any) => (
    <text x={x + 8} y={y + 6} fontSize={24} fontStyle="italic" textAnchor="end" dominantBaseline="central" fill="#000" transform={`rotate(-72 ${x + 8} ${y + 6})`}>{Math.abs(payload.value)}%</text>
  );
  return (
    <div style={pl.wrap}>
      <BarChart {...pl.size} margin={{ top: 0, right: 34, left: 34, bottom: 0 }} layout="vertical" data={data} stackOffset="sign">
        <XAxis type="number" domain={[-100,100]} ticks={fTicks} interval={0} height={90} tickSize={12} axisLine={{ stroke: '#222', strokeWidth: 2 }} tickLine={{ stroke: '#222', strokeWidth: 1.5 }} tick={tick} />
        <YAxis type="category" dataKey="gene" hide padding={{ top: 0, bottom: 13 }} />
        {fTypes.map((k) => <Bar key={`l${k}`} dataKey={`l${k}`} stackId="s" barSize={50} fill={MUT[k]} stroke="#bdbdbd" strokeWidth={1} isAnimationActive={false} />)}
        {fTypes.map((k) => <Bar key={`r${k}`} dataKey={`r${k}`} stackId="s" barSize={50} fill={MUT[k]} stroke="#bdbdbd" strokeWidth={1} isAnimationActive={false} />)}
      </BarChart>
    </div>
  );
}

const dTmbData = dTmbMiss.map((m, i) => ({
  i,
  F: dTmbBlue[i] ?? 0,
  I: dTmbIns[i] ?? 0,
  R: dTmbInFrame[i] ?? 0,
  M: dTmbMissSpike[i] ?? m,
  N: dTmbNon[i],
  S: dTmbOrange[i] ?? 0,
}));
const eTmbData = eTmbTotal.map((total, i) => {
  const y = eTmbYellow[i] ?? 0;
  return {
    i,
    F: eTmbBlue[i],
    I: eTmbIns[i],
    Y: y,
    M: Math.max(total - eTmbBlue[i] - eTmbIns[i] - y - eTmbRed[i] - eTmbOrange[i], 0),
    N: eTmbRed[i],
    S: eTmbOrange[i],
  };
});

const dLegend: LegendItem[][] = [
  [['Nonsense_Mutation','N',1284],['Frame_Shift_Del','F',1306.7],['Missense_Mutation','M',1329]],
  [['In_Frame_Del','Y',1285],['Nonstop_Mutation','L',1307],['In_Frame_Ins','R',1330]],
  [['Frame_Shift_Ins','I',1284],['Multi-hit','H',1306.7],['Translation_Start_Site','T',1330]],
];
const eLegend: LegendItem[][] = [
  [['Frame_Shift_Del','F',1281.7],['Nonsense_Mutation','N',1306],['In_Frame_Del','Y',1330.7]],
  [['Frame_Shift_Ins','I',1286],['In_Frame_Ins','R',1310],['Translation_Start_Site','T',1335]],
  [['Nonstop_Mutation','L',1286.7],['Multi-hit','H',1310],['Missense_Mutation','M',1332.7]],
];
const fLegend: LegendItem[][] = [
  [['Frame_Shift_Del','F',1959.8],['Nonsense_Mutation','N',1982.3],['In_Frame_Del','Y',2009.6]],
  [['Frame_Shift_Ins','I',1964],['In_Frame_Ins','R',1987],['Translation_Start_Site','T',2014]],
  [['Nonstop_Mutation','L',1964],['Multi-hit','H',1987.5],['Missense_Mutation','M',2011.8]],
];

function OncoLegend({ cols, sx, tx, s }: { cols: LegendItem[][]; sx: number[]; tx: number[]; s: number }) {
  return (
    <>
      {cols.map((col, ci) => col.map(([name, k, y]) => (
        <g key={name}>
          <rect x={sx[ci] - 4.5} y={y - 4.5} width={9} height={9} fill={MUT[k]} />
          <Txt x={tx[ci]} y={y} s={s} i a="start">{name}</Txt>
        </g>
      )))}
    </>
  );
}

export default function App() {
  const dRows = { t: 739.7, b: 1261.7 };
  const eRows = { t: 737.7, b: 1264 };
  const dPitch = (dRows.b - dRows.t) / 20;
  const ePitch = (eRows.b - eRows.t) / 20;
  const bCurves = [
    { color: '#cc0a35', pts: bHigh, cens: bHighCens },
    { color: '#12309f', pts: bLow, cens: bLowCens },
  ];
  const cCurves = [
    { color: '#d6123f', pts: cHH, cens: cHHCens },
    { color: '#1433a8', pts: cHL, cens: cHLCens },
    { color: '#d6cf10', pts: cLH, cens: cLHCens },
    { color: '#0e9f6e', pts: cLL, cens: cLLCens },
  ];
  const corrXLabel = 'SETD2 (log2(TPM+1))';
  return (
    <div style={{ position: 'absolute', left: 0, top: 0, width: 1944, height: 2473, background: '#fff', overflow: 'hidden', fontFamily: FONT }}>
      <BoxPanel />
      <KMChart box={[723,35,1262,345.3]} xDomain={[-0.68,14.3]} yDomain={[-6.3,130.7]} curves={bCurves} arm={4.5} sw={1.6} lw={3.4} />
      <RiskTable box={[723,396,1262,438]} xDomain={[-0.68,14.3]} fontSize={22.5} rows={[
        { vals: bRiskHigh, at: 0.63, color: '#cc0a35' },
        { vals: bRiskLow, at: 0.21, color: '#12309f' },
      ]} />
      <KMChart box={[1378.8,61.7,1939,346.7]} xDomain={[-0.74,13.04]} yDomain={[-8.1,130.2]} curves={cCurves} arm={2.6} sw={1} lw={3.8} />
      <RiskTable box={[1378.8,380,1939,434]} xDomain={[-0.74,13.04]} fontSize={18} rows={[
        { vals: cRiskHH, at: 0.83, color: '#e60000', bold: true },
        { vals: cRiskHL, at: 0.57, color: '#1433a8' },
        { vals: cRiskLH, at: 0.35, color: '#d6cf10' },
        { vals: cRiskLL, at: 0.13, color: '#0e9f6e' },
      ]} />

      <TmbBars data={dTmbData} keys={['F','I','R','M','N','S']} box={[101,606,748,729.3]} max={1611} gap="10%" />
      <OncoGrid muts={dMuts} n={121} box={[101,dRows.t,748,dRows.b]} />
      <SideBars genes={dGenes} muts={dMuts} order={['N','F','M','S','I','R','T','Y','L','H']} box={[812.4,734.3,922.6,dRows.b]} max={64} />

      <TmbBars data={eTmbData} keys={['F','I','Y','M','N','S']} box={[1061,602.3,1709.4,727.3]} max={120} gap="4%" />
      <OncoGrid muts={eMuts} n={166} box={[1061,eRows.t,1709.4,eRows.b]} />
      <SideBars genes={eGenes} muts={eMuts} order={['F','N','Y','S','M','I','R','T','L','H']} box={[1777.8,732,1930.2,eRows.b]} max={98} italic />

      <ButterflyPanel />
      <ProportionBars cats={gCats} vals={gVals} box={[1065.5,1529.6,1361.3,1982.3]} yMax={0.3272} ticks={[0,0.1,0.2,0.3]} pad={{ left: 24, right: 34 }} shift={[-1,2]} />
      <ProportionBars cats={hCats} vals={hVals} box={[1559.2,1430.7,1857,1984]} yMax={0.4} ticks={[0,0.1,0.2,0.3,0.4]} pad={{ left: 0, right: 18 }} shift={[-2,11]} />

      <CorrPanel box={[52.5,2136,445.6,2422.3]} xDomain={[1.59,6.2]} yDomain={[0.05,6.32]} yTicks={[2,4,6]} fit={fit1} pts={corr1} />
      <CorrPanel box={[540.6,2136,933,2422]} xDomain={[1.6,6.2]} yDomain={[3.03,7.39]} yTicks={[4,5,6,7]} fit={fit2} pts={corr2} />
      <CorrPanel box={[1040.9,2136,1432.8,2421.3]} xDomain={[1.6,6.2]} yDomain={[1.66,7.17]} yTicks={[2,3,4,5,6,7]} fit={fit3} pts={corr3} />
      <CorrPanel box={[1529.6,2138.7,1917,2424.3]} xDomain={[1.59,6.2]} yDomain={[0.63,9.65]} yTicks={[2.5,5,7.5]} fit={fit4} pts={corr4} dec />

      <svg width={1944} height={2473} style={{ position: 'absolute', left: 0, top: 0, pointerEvents: 'none' }}>
        {/* panel letters */}
        {[['A',41,18],['B',667,18],['C',1335,18],['D',38,548],['E',1017,547],['F',52,1408],['G',984,1408],['H',1459,1408],['I',42.5,2074]].map(([t,x,y]) => (
          <Txt key={t as string} x={x} y={y} s={42} b>{t}</Txt>
        ))}

        {/* A */}
        <Txt x={357} y={38} s={33} b>Tumor Mutation Burden</Txt>
        <Txt x={42} y={274} s={24.5} b r={-90}>Tumor Mutation Burden</Txt>
        <rect x={104} y={76.7} width={495.5} height={364.3} fill="none" stroke="#111" strokeWidth={2.5} />
        <Txt x={344} y={106} s={24}>*</Txt>

        {/* B */}
        <Txt x={987} y={38} s={33} b>Tumor Mutation Burden</Txt>
        <Txt x={674} y={215} s={25.5} b r={-90}>Percent survival(%)</Txt>
        <Txt x={764} y={287} s={28} a="start">{'p = 1.69E\u221203'}</Txt>
        <Txt x={989.6} y={376.7} s={24} b>Time(year)</Txt>
        <Txt x={993.6} y={471.7} s={24} b>Time(year)</Txt>
        <Txt x={1128} y={96} s={20.5} a="start">{'High\u2212TMB'}</Txt>
        <Txt x={1128} y={114} s={20.5} a="start">{'Low\u2212TMB'}</Txt>
        <path d="M1104.4 97H1120M1112 93V101" stroke="#cc0a35" strokeWidth={2.6} />
        <path d="M1104.4 115H1120M1112 111V119" stroke="#12309f" strokeWidth={2.6} />
        <rect x={703} y={414.5} width={24} height={4.6} fill="#cc0a35" />
        <rect x={703} y={425} width={24} height={4.6} fill="#12309f" />

        {/* C */}
        <Txt x={1653} y={38} s={33} b>Tumor Mutation Burden + Riskscore</Txt>
        <Txt x={1328.4} y={213} s={25.5} b r={-90}>Percent survival(%)</Txt>
        <Txt x={1447.7} y={286.7} s={28} a="start">{'p = 2.48E\u221207'}</Txt>
        <Txt x={1662.5} y={374} s={24} b>Time(year)</Txt>
        <Txt x={1652} y={467} s={24} b>Time(year)</Txt>
        {[['High\u2212risk+High\u2212TMB','#d6123f',83],['High\u2212risk+Low\u2212TMB','#1433a8',99],['Low\u2212risk+High\u2212TMB','#d6cf10',115],['Low\u2212risk+Low\u2212TMB','#0e9f6e',130]].map(([t,c,y]) => (
          <g key={t as string}>
            <path d={`M1694 ${y}H1706M1700 ${(y as number) - 3}V${(y as number) + 3}`} stroke={c as string} strokeWidth={2.6} />
            <Txt x={1713} y={y} s={19.5} a="start">{t}</Txt>
          </g>
        ))}
        {[['#d6123f',399],['#1433a8',408],['#d6cf10',417],['#0e9f6e',426]].map(([c,y]) => (
          <rect key={c as string} x={1366} y={y as number} width={15} height={3.4} fill={c as string} />
        ))}

        {/* D */}
        <Txt x={490} y={570} s={28.7} b>High-risk group:Altered in 121 (87.05%)of 139 samples.</Txt>
        <Txt x={76.5} y={668} s={22} i r={-90}>TMB</Txt>
        <Txt x={880} y={690} s={24} i>No.of samples</Txt>
        {dGenes.map((g, i) => (
          <g key={g}>
            <Txt x={95} y={dRows.t + dPitch * (i + 0.5) - 1} s={24} i a="end">{g}</Txt>
            <Txt x={758} y={dRows.t + dPitch * (i + 0.5) + 1} s={24} i a="start">{dPct[i]}%</Txt>
          </g>
        ))}
        <OncoLegend cols={dLegend} sx={[109,389,616]} tx={[136,417.5,644]} s={20.3} />

        {/* E */}
        <Txt x={1459} y={560.7} s={28.7} b>Low-risk group:Altered in 166 (87.83%)of 189 samples.</Txt>
        <Txt x={1032} y={667.7} s={22} i r={-90}>TMB</Txt>
        <Txt x={1856} y={683} s={24} i>No.of samples</Txt>
        {eGenes.map((g, i) => (
          <g key={g}>
            <Txt x={1055.4} y={eRows.t + ePitch * (i + 0.5) - 1} s={24} i a="end">{g}</Txt>
            <Txt x={1716} y={eRows.t + ePitch * (i + 0.5) + 1} s={24} i a="start">{ePct[i]}%</Txt>
          </g>
        ))}
        <OncoLegend cols={eLegend} sx={[1070.5,1351.6,1641.6]} tx={[1098,1379,1669]} s={20.3} />

        {/* F */}
        <Txt x={287} y={1427.7} s={28.5} b>Low-risk group[N=189]</Txt>
        <Txt x={756} y={1426.4} s={28.5} b>high-risk group[N=139]</Txt>
        {[['VHL',1492.7],['PBRM1',1552],['TTN',1612],['MUC16',1671.4],['BAP1',1731],['SETD2',1790.6]].map(([t,y]) => (
          <Txt key={t as string} x={95} y={y} s={24} i>{t}</Txt>
        ))}
        {[['52%',290,1490.6],['47%',307.5,1552],['15%',410,1611],['7%',439,1671],['6%',437.6,1732],['6%',442,1793]].map(([t,x,y],i) => (
          <Txt key={i} x={x} y={y} s={24} i a="end">{t}</Txt>
        ))}
        {[['46%',626.5,1488],['35%',585,1552],['21%',540.7,1611],['6%',497.6,1671],['16%',520,1732.5],['22%',540.7,1790.6]].map(([t,x,y],i) => (
          <Txt key={i} x={x} y={y} s={24} i a="start">{t}</Txt>
        ))}
        <Txt x={496.4} y={1921.6} s={24} i>Percent of cases</Txt>
        <OncoLegend cols={fLegend} sx={[84,367.5,659.5]} tx={[112,395.7,687.6]} s={20.5} />

        {/* G */}
        <Txt x={998} y={1771} s={23.5} c="#333" r={-90}>Proportion of SETD2 mutated Patients</Txt>
        <rect x={1281.3} y={1524} width={15} height={23} fill={barCols[0]} />
        <rect x={1282.6} y={1568.6} width={15} height={24} fill={barCols[1]} />
        <Txt x={1311} y={1534.8} s={22} c="#222" a="start">High</Txt>
        <Txt x={1311} y={1580} s={22} c="#222" a="start">Low</Txt>
        <Txt x={1226.5} y={1626.7} s={24} c="#222">P=2.164e-05</Txt>
        <line x1={1171} x2={1265} y1={1639} y2={1639} stroke="#222" strokeWidth={1.5} />

        {/* H */}
        <Txt x={1486} y={1773} s={23.5} c="#333" r={-90}>Proportion of SETD2 mutated Patients</Txt>
        <rect x={1730} y={1616} width={15.5} height={24} fill={barCols[0]} />
        <rect x={1731.4} y={1661} width={16} height={24} fill={barCols[1]} />
        <Txt x={1761} y={1627} s={22} c="#222" a="start">Metastasis</Txt>
        <Txt x={1761} y={1672.7} s={22} c="#222" a="start">Non-metastasis</Txt>
        <Txt x={1709.3} y={1515.3} s={24} c="#222">P=0.003172</Txt>
        <line x1={1658.4} x2={1753.2} y1={1530.5} y2={1530.5} stroke="#222" strokeWidth={1.5} />

        {/* I */}
        {[[52.5,2136,393.1,286.3],[540.6,2136,392.4,286],[1040.9,2136,391.9,285.3],[1529.6,2138.7,387.4,285.6]].map(([x,y,w,h]) => (
          <rect key={x} x={x} y={y} width={w} height={h} fill="none" stroke="#aaa" strokeWidth={1.8} />
        ))}
        <Txt x={248} y={2111.7} s={29} b>Correlation analysis</Txt>
        <Txt x={746} y={2110.7} s={29} b>Correlation analysis</Txt>
        <Txt x={1229} y={2109} s={29} b>Correlation analysis</Txt>
        <Txt x={1721} y={2107.7} s={29} b>Correlation analysis</Txt>
        <Txt x={78} y={2175.7} s={24} b a="start">{'R=0.46,p<2.2e-16'}</Txt>
        <Txt x={564} y={2202} s={24} b a="start">{'R=0.53,p<2.2e-16'}</Txt>
        <Txt x={1086} y={2228} s={24} b a="start">{'R=0.51,p<2.2e-16'}</Txt>
        <Txt x={1557.8} y={2396.7} s={24} b a="start">R=-0.33,p=7.4e-15s</Txt>
        <Txt x={12} y={2288} s={25.5} b r={-90}>GALNT7 (log2(TPM+1))</Txt>
        <Txt x={503} y={2286} s={25.5} b r={-90}>METAP1 (log2(TPM+1))</Txt>
        <Txt x={1002} y={2284} s={25.5} b r={-90}>ITPKB (log2(TPM+1))</Txt>
        <Txt x={1472} y={2276} s={25.5} b r={-90}>TRIB3 (log2(TPM+1))</Txt>
        <Txt x={258.6} y={2458} s={25} b>{corrXLabel}</Txt>
        <Txt x={749} y={2458} s={25} b>{corrXLabel}</Txt>
        <Txt x={1244.6} y={2458} s={25} b>{corrXLabel}</Txt>
        <Txt x={1739.6} y={2458} s={25} b>{corrXLabel}</Txt>
      </svg>
    </div>
  );
}
